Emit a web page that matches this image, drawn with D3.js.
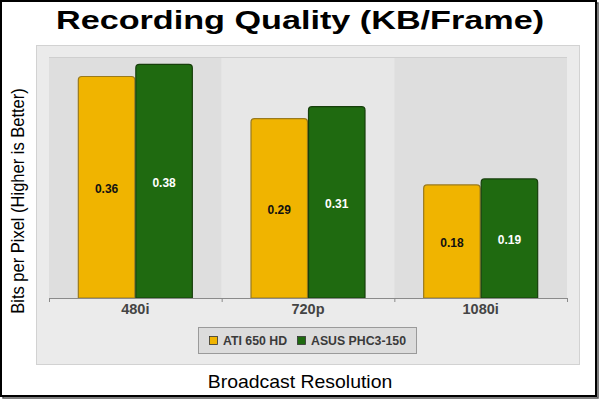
<!DOCTYPE html>
<html lang="en">
<head>
<script src="https://cdn.jsdelivr.net/npm/d3@7"></script>
<style>
  body { margin: 0; background: #fff; }
  svg { display: block; font-family: "Liberation Sans", Arial, sans-serif; }
</style>
</head>
<body>
<script>
// chart data
const categories = ["480i", "720p", "1080i"];
const seriesNames = ["ATI 650 HD", "ASUS PHC3-150"];
const atiValues = [0.36, 0.29, 0.18];
const asusValues = [0.38, 0.31, 0.19];
const seriesColors = ["#f0b400", "#1f6a10"];
const seriesStrokes = ["#9a7a1c", "#163f0b"];
const labelColors = ["#111", "#fff"];

const w = 600, h = 400;
const plot = {left: 49, right: 567, top: 57, bottom: 298};

const svg = d3.select("body").append("svg")
    .attr("width", w)
    .attr("height", h);

// outer frame with a small shadow
svg.append("rect").attr("x", 3).attr("y", 3).attr("width", 595).attr("height", 395)
    .attr("fill", "none").attr("stroke", "#555").attr("stroke-width", 1.5);
svg.append("rect").attr("x", 1).attr("y", 1).attr("width", 595).attr("height", 395)
    .attr("fill", "#fff").attr("stroke", "#000").attr("stroke-width", 2);

// grey panel
svg.append("rect").attr("x", 36.5).attr("y", 45.5).attr("width", 543).attr("height", 319)
    .attr("fill", "#ebebeb").attr("stroke", "#d2d2d2");

svg.append("text")
    .attr("transform", "translate(" + (w / 2) + ",28.5) scale(1.29,1)")
    .attr("text-anchor", "middle")
    .attr("font-size", "26.5px").attr("font-weight", "bold")
    .text("Recording Quality (KB/Frame)");

let x0 = d3.scaleBand().domain(categories).range([plot.left, plot.right]);
let x1 = d3.scaleBand().domain(seriesNames)
    .range([x0.bandwidth() / 2 - 57.5, x0.bandwidth() / 2 + 57.5]);
// zero sits a few pixels above the drawn baseline
let y = d3.scaleLinear().domain([0, 0.4]).range([plot.bottom - 4.6, plot.bottom - 4.6 - 241]);

// alternating bands
svg.selectAll("rect.band")
    .data(categories)
    .enter()
    .append("rect")
    .attr("class", "band")
    .attr("x", (d) => x0(d))
    .attr("y", plot.top)
    .attr("width", x0.bandwidth())
    .attr("height", plot.bottom - plot.top)
    .attr("fill", (d, i) => i % 2 == 0 ? "#dedede" : "#e7e7e7");

svg.append("line")
    .attr("x1", plot.left).attr("x2", plot.right)
    .attr("y1", plot.top + 0.5).attr("y2", plot.top + 0.5)
    .attr("stroke", "#cfcfcf");

let rows = categories.map((c, i) => ({cat: c, vals: [atiValues[i], asusValues[i]]}));

function topRounded(x, yTop, bw, bh, r) {
    return "M" + x + "," + (yTop + bh) +
        "V" + (yTop + r) +
        "Q" + x + "," + yTop + " " + (x + r) + "," + yTop +
        "H" + (x + bw - r) +
        "Q" + (x + bw) + "," + yTop + " " + (x + bw) + "," + (yTop + r) +
        "V" + (yTop + bh) + "Z";
}

let groups = svg.selectAll("g.grp")
    .data(rows)
    .enter()
    .append("g")
    .attr("class", "grp")
    .attr("transform", (d) => "translate(" + x0(d.cat) + ",0)");

groups.selectAll("path")
    .data((d) => d.vals.map((v, j) => ({v: v, j: j})))
    .enter()
    .append("path")
    .attr("d", (d) => topRounded(x1(seriesNames[d.j]) + 0.5, y(d.v), x1.bandwidth() - 1,
        plot.bottom - y(d.v), 3.5))
    .attr("fill", (d) => seriesColors[d.j])
    .attr("stroke", (d) => seriesStrokes[d.j])
    .attr("stroke-width", 1.2);

groups.selectAll("text")
    .data((d) => d.vals.map((v, j) => ({v: v, j: j})))
    .enter()
    .append("text")
    .attr("x", (d) => x1(seriesNames[d.j]) + x1.bandwidth() / 2)
    .attr("y", (d) => (y(d.v) + plot.bottom) / 2 + 5.5)
    .attr("text-anchor", "middle")
    .attr("font-size", "12px").attr("font-weight", "bold")
    .attr("fill", (d) => labelColors[d.j])
    .text((d) => d3.format(".2f")(d.v));

// x axis
let xAxis = d3.axisBottom(x0).tickSize(0).tickPadding(6);
let axisG = svg.append("g")
    .attr("transform", "translate(0," + plot.bottom + ")")
    .call(xAxis);
axisG.select(".domain").attr("stroke", "#8a8a8a");
axisG.selectAll("text")
    .attr("font-family", "Liberation Sans, Arial, sans-serif")
    .attr("font-size", "14.5px").attr("font-weight", "bold").attr("fill", "#444");

let edges = categories.map((c) => x0(c)).concat([plot.right]);
svg.selectAll("line.tick-edge")
    .data(edges)
    .enter()
    .append("line")
    .attr("class", "tick-edge")
    .attr("x1", (d) => d + 0.5).attr("x2", (d) => d + 0.5)
    .attr("y1", plot.bottom).attr("y2", plot.bottom + 4)
    .attr("stroke", "#8a8a8a");

// legend
let legend = svg.append("g").attr("transform", "translate(198,327)");
legend.append("rect")
    .attr("x", 0.5).attr("y", 0.5).attr("width", 218).attr("height", 26)
    .attr("fill", "#dcdcdc").attr("stroke", "#9a9a9a");
let legendX = [11, 99];
seriesNames.forEach((name, i) => {
    legend.append("rect")
        .attr("x", legendX[i] + 0.5).attr("y", 9.5).attr("width", 8).attr("height", 8)
        .attr("fill", seriesColors[i]).attr("stroke", "#333").attr("stroke-width", 0.8);
    legend.append("text")
        .attr("x", legendX[i] + 14).attr("y", 18)
        .attr("font-size", "12.3px").attr("font-weight", "bold").attr("fill", "#3a3a3a")
        .text(name);
});

svg.append("text")
    .attr("transform", "translate(" + (w / 2) + ",388) scale(1.11,1)")
    .attr("text-anchor", "middle")
    .attr("font-size", "17.5px")
    .text("Broadcast Resolution");

svg.append("text")
    .attr("transform", "translate(24,201) rotate(-90) scale(1,1.15)")
    .attr("text-anchor", "middle")
    .attr("font-size", "16.5px")
    .text("Bits per Pixel (Higher is Better)");
</script>
</body>
</html>
